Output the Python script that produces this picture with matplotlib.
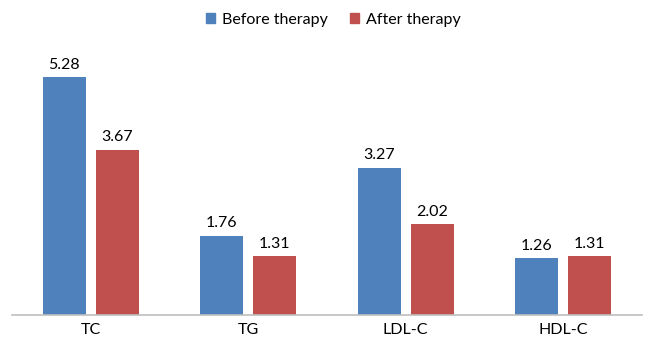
import matplotlib.pyplot as plt
import numpy as np
from matplotlib.patches import Patch

# Data
categories = ["TC", "TG", "LDL-C", "HDL-C"]
before = [5.28, 1.76, 3.27, 1.26]
after = [3.67, 1.31, 2.02, 1.31]

blue = "#4F81BD"
red = "#C0504D"

plt.rcParams['font.family'] = ['Lato', 'DejaVu Sans']

fig = plt.figure(figsize=(6.5, 3.58), dpi=100)
ax = fig.add_axes([12 / 650, 43 / 358, 630 / 650, 270.5 / 358])

x = np.arange(len(categories))
w = 0.273
off = 0.168
b1 = ax.bar(x - off, before, w, color=blue)
b2 = ax.bar(x + off, after, w, color=red)

for bars, vals in ((b1, before), (b2, after)):
    for rect, v in zip(bars, vals):
        ax.text(rect.get_x() + rect.get_width() / 2, v + 0.12, f"{v:.2f}",
                ha="center", va="bottom", fontsize=11.5, color="black")

ax.set_xlim(-0.5, len(categories) - 0.5)
ax.set_ylim(0, 6)
ax.set_xticks(x)
ax.set_xticklabels(categories, fontsize=11.5)
ax.tick_params(axis="x", length=0, pad=6)
ax.set_yticks([])
for s in ["top", "right", "left"]:
    ax.spines[s].set_visible(False)
ax.spines["bottom"].set_color("#BFBFBF")
ax.spines["bottom"].set_linewidth(1.2)

handles = [Patch(color=blue, label="Before therapy"),
           Patch(color=red, label="After therapy")]
fig.legend(handles=handles, loc="center", bbox_to_anchor=(333 / 650, 1 - 20 / 358),
           ncol=2, frameon=False, fontsize=11.5, handlelength=0.6, handleheight=0.6,
           handletextpad=0.4, columnspacing=1.4)

plt.savefig("out.png", dpi=100)
